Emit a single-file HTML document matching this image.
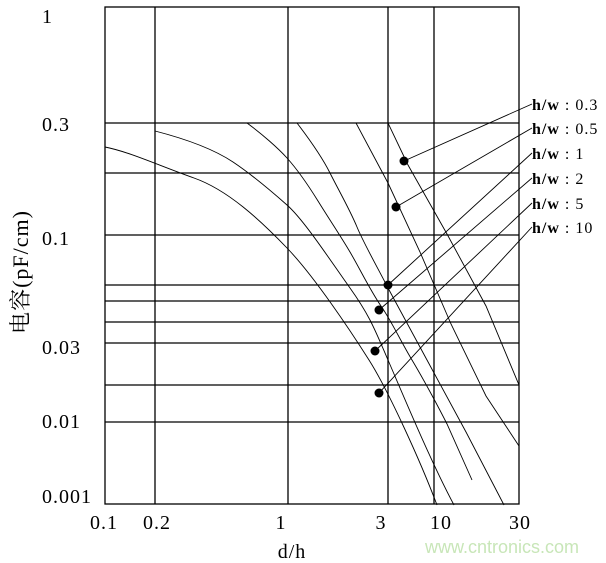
<!DOCTYPE html>
<html><head><meta charset="utf-8"><style>
html,body{margin:0;padding:0;background:#fff;}
svg{display:block;}
text{font-family:"Liberation Serif","Noto Serif CJK SC",serif;fill:#000;}
</style></head><body>
<svg width="606" height="563" viewBox="0 0 606 563" xmlns="http://www.w3.org/2000/svg">
<g stroke="#000" stroke-width="1.3" fill="none">
<rect x="105" y="7" width="414" height="497"/>
<line x1="155" y1="7" x2="155" y2="504"/>
<line x1="288" y1="7" x2="288" y2="504"/>
<line x1="388" y1="7" x2="388" y2="504"/>
<line x1="434" y1="7" x2="434" y2="504"/>
<line x1="105" y1="123" x2="519" y2="123"/>
<line x1="105" y1="173" x2="519" y2="173"/>
<line x1="105" y1="235" x2="519" y2="235"/>
<line x1="105" y1="285" x2="519" y2="285"/>
<line x1="105" y1="301" x2="519" y2="301"/>
<line x1="105" y1="322" x2="519" y2="322"/>
<line x1="105" y1="343" x2="519" y2="343"/>
<line x1="105" y1="385" x2="519" y2="385"/>
<line x1="105" y1="422" x2="519" y2="422"/>
</g>
<g stroke="#000" stroke-width="0.9" fill="none">
<path d="M105,147 C130,152 160,166 194,178 S260,220 287,248 S350,330 369,360 S420,460 437,505"/>
<path d="M155,131 C190,140 215,150 233,162 S270,190 287,205 S330,260 350,288 S375,330 388,360 S430,460 454,505"/>
<path d="M247,123 C262,134 278,148 287,158 S305,180 318,201 S340,235 350,252 S370,290 381,306 S400,340 412,360 S440,410 447,424 L472,480"/>
<path d="M297,123 C310,140 322,157 330,173 S350,210 357,227 S380,272 388,288 L427,360 L466,432 L504,505"/>
<path d="M356,123 L388,183 L420,252 L451,324 L486,396 L519,446"/>
<path d="M388,123 L408,165 L447,234 L486,306 L519,385"/>
<line x1="404" y1="161" x2="532" y2="104"/>
<line x1="396" y1="207" x2="532" y2="128"/>
<line x1="388" y1="285" x2="532" y2="153"/>
<line x1="379" y1="310" x2="532" y2="178"/>
<line x1="375" y1="351" x2="532" y2="203"/>
<line x1="379" y1="393" x2="532" y2="227"/>
</g>
<g fill="#000">
<circle cx="404" cy="161" r="4.5"/><circle cx="396" cy="207" r="4.5"/>
<circle cx="388" cy="285" r="4.5"/><circle cx="379" cy="310" r="4.5"/>
<circle cx="375" cy="351" r="4.5"/><circle cx="379" cy="393" r="4.5"/>
</g>
<g font-size="16" letter-spacing="1">
<text x="532" y="110"><tspan font-weight="bold">h/w</tspan> : 0.3</text>
<text x="532" y="134"><tspan font-weight="bold">h/w</tspan> : 0.5</text>
<text x="532" y="159"><tspan font-weight="bold">h/w</tspan> : 1</text>
<text x="532" y="184"><tspan font-weight="bold">h/w</tspan> : 2</text>
<text x="532" y="209"><tspan font-weight="bold">h/w</tspan> : 5</text>
<text x="532" y="233"><tspan font-weight="bold">h/w</tspan> : 10</text>
</g>
<g font-size="20" letter-spacing="1">
<text x="42" y="23">1</text>
<text x="42" y="131">0.3</text>
<text x="42" y="245">0.1</text>
<text x="42" y="354">0.03</text>
<text x="42" y="428">0.01</text>
<text x="42" y="503">0.001</text>
<text x="104" y="529" text-anchor="middle">0.1</text>
<text x="157" y="529" text-anchor="middle">0.2</text>
<text x="281" y="529" text-anchor="middle">1</text>
<text x="381" y="529" text-anchor="middle">3</text>
<text x="441" y="529" text-anchor="middle">10</text>
<text x="520" y="529" text-anchor="middle">30</text>
<text x="292" y="558" text-anchor="middle">d/h</text>
<text transform="translate(28,272) rotate(-90)" text-anchor="middle" font-size="22">电容(pF/cm)</text>
</g>
<text x="425" y="553" font-size="18" style="font-family:'Liberation Sans',sans-serif;fill:#c8e6b8">www.cntronics.com</text>
</svg>
</body></html>
